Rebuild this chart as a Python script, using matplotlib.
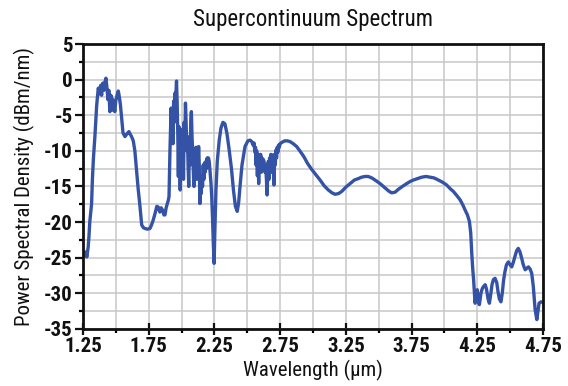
import matplotlib
matplotlib.use("Agg")
import matplotlib.pyplot as plt
from matplotlib.ticker import MultipleLocator
from matplotlib import font_manager

# ---- data ----
wavelength_um = [
    1.250, 1.260, 1.270, 1.280, 1.290, 1.296, 1.302, 1.310, 1.316, 1.322, 1.330, 1.341,
    1.354, 1.360, 1.367, 1.375, 1.385, 1.392, 1.400, 1.410, 1.418, 1.425, 1.432, 1.440,
    1.447, 1.455, 1.462, 1.470, 1.477, 1.484, 1.492, 1.500, 1.510, 1.519, 1.526, 1.535,
    1.545, 1.555, 1.570, 1.585, 1.600, 1.608, 1.620, 1.633, 1.645, 1.658, 1.670, 1.684,
    1.697, 1.710, 1.722, 1.740, 1.760, 1.772, 1.785, 1.800, 1.812, 1.823, 1.835, 1.845,
    1.855, 1.866, 1.874, 1.883, 1.892, 1.900, 1.905, 1.912, 1.917, 1.921, 1.926, 1.930,
    1.935, 1.940, 1.945, 1.950, 1.955, 1.962, 1.967, 1.972, 1.976, 1.980, 1.985, 1.990,
    1.995, 2.000, 2.005, 2.010, 2.015, 2.020, 2.025, 2.030, 2.035, 2.040, 2.045, 2.050,
    2.055, 2.060, 2.065, 2.070, 2.075, 2.080, 2.085, 2.090, 2.095, 2.100, 2.105, 2.110,
    2.115, 2.120, 2.125, 2.130, 2.135, 2.140, 2.145, 2.150, 2.155, 2.160, 2.165, 2.170,
    2.175, 2.180, 2.185, 2.190, 2.195, 2.200, 2.205, 2.211, 2.218, 2.224, 2.230, 2.236,
    2.242, 2.248, 2.254, 2.262, 2.272, 2.287, 2.300, 2.315, 2.330, 2.345, 2.360, 2.380,
    2.395, 2.410, 2.424, 2.435, 2.445, 2.460, 2.483, 2.505, 2.521, 2.534, 2.545, 2.552,
    2.558, 2.563, 2.567, 2.572, 2.577, 2.582, 2.587, 2.592, 2.597, 2.602, 2.607, 2.612,
    2.617, 2.622, 2.628, 2.634, 2.640, 2.646, 2.651, 2.656, 2.660, 2.665, 2.670, 2.675,
    2.680, 2.686, 2.692, 2.698, 2.703, 2.708, 2.713, 2.718, 2.723, 2.728, 2.733, 2.738,
    2.744, 2.750, 2.765, 2.785, 2.805, 2.825, 2.850, 2.876, 2.900, 2.930, 2.960, 2.990,
    3.020, 3.054, 3.085, 3.117, 3.145, 3.168, 3.195, 3.219, 3.250, 3.282, 3.315, 3.345,
    3.370, 3.396, 3.420, 3.447, 3.480, 3.510, 3.535, 3.561, 3.580, 3.599, 3.625, 3.650,
    3.680, 3.713, 3.740, 3.764, 3.795, 3.827, 3.860, 3.890, 3.920, 3.954, 3.985, 4.017,
    4.043, 4.068, 4.095, 4.120, 4.140, 4.157, 4.175, 4.190, 4.200, 4.208, 4.215, 4.222,
    4.228, 4.233, 4.240, 4.245, 4.250, 4.256, 4.261, 4.266, 4.272, 4.278, 4.285, 4.292,
    4.300, 4.310, 4.320, 4.332, 4.342, 4.352, 4.362, 4.372, 4.385, 4.398, 4.408, 4.418,
    4.430, 4.440, 4.450, 4.460, 4.472, 4.486, 4.500, 4.512, 4.525, 4.537, 4.550, 4.562,
    4.575, 4.588, 4.600, 4.614, 4.626, 4.639, 4.652, 4.664, 4.676, 4.690, 4.703, 4.712,
    4.720, 4.735, 4.750,
]
psd_dbm_nm = [
    -24.5, -24.8, -24.2, -24.9, -23.5, -22.0, -20.0, -18.5, -17.4, -14.0, -11.0, -8.0,
    -3.8, -2.5, -1.2, -2.0, -0.8, -2.2, -0.5, -1.5, -0.3, 0.2, -1.0, -2.8,
    -1.5, -4.5, -2.2, -2.6, -4.3, -2.9, -4.5, -3.0, -2.2, -1.6, -2.3, -3.5,
    -5.5, -7.5, -8.0, -7.6, -7.3, -7.6, -8.0, -8.6, -10.0, -12.7, -15.3, -17.8,
    -20.4, -20.8, -20.9, -21.0, -20.9, -20.4, -19.7, -18.7, -17.8, -17.9, -18.6, -18.0,
    -18.3, -19.0, -19.0, -18.0, -17.4, -16.9, -16.4, -10.0, -6.6, -4.0, -7.5, -5.0,
    -9.0, -3.0, -6.0, -1.9, -3.0, -0.2, -3.3, -8.0, -13.6, -6.6, -10.0, -15.5,
    -10.0, -7.0, -12.0, -8.0, -14.0, -6.0, -9.0, -3.3, -6.0, -10.0, -8.0, -12.0,
    -15.0, -9.0, -12.0, -6.0, -4.5, -8.0, -10.3, -13.0, -15.0, -10.0, -12.7, -9.5,
    -14.0, -11.0, -13.0, -9.4, -12.0, -17.4, -14.0, -16.0, -13.6, -15.0, -12.0, -14.0,
    -11.7, -13.0, -11.5, -12.5, -11.0, -11.8, -11.0, -11.5, -13.1, -14.5, -16.5, -19.5,
    -23.0, -25.8, -21.0, -15.5, -11.5, -8.5, -6.8, -6.0, -6.2, -7.5, -9.5, -12.5,
    -15.5, -17.8, -18.5, -17.2, -15.0, -12.0, -9.4, -8.6, -8.5, -8.7, -9.2, -8.9,
    -10.2, -9.5, -12.0, -10.0, -13.5, -10.5, -14.6, -11.0, -12.0, -10.5, -13.0, -11.0,
    -12.5, -11.2, -11.5, -13.0, -12.0, -14.0, -16.2, -13.0, -11.5, -14.0, -11.0, -12.5,
    -10.5, -13.0, -10.6, -12.0, -14.8, -10.5, -12.0, -9.9, -11.0, -9.5, -10.2, -9.2,
    -9.5, -9.0, -8.8, -8.6, -8.6, -8.7, -9.0, -9.4, -10.0, -10.8, -11.8, -12.6,
    -13.3, -14.1, -14.9, -15.5, -15.9, -16.1, -16.0, -15.7, -15.1, -14.6, -14.1, -13.9,
    -13.7, -13.6, -13.6, -13.8, -14.2, -14.6, -15.0, -15.4, -15.7, -15.9, -15.8, -15.4,
    -15.0, -14.6, -14.3, -14.1, -13.9, -13.7, -13.6, -13.7, -13.8, -14.1, -14.4, -14.8,
    -15.3, -15.7, -16.3, -16.9, -17.6, -18.3, -19.0, -19.9, -21.5, -24.4, -26.5, -28.1,
    -30.0, -31.4, -30.4, -29.8, -29.5, -30.8, -31.4, -31.6, -30.8, -30.0, -29.5, -29.2,
    -29.0, -28.8, -29.4, -30.8, -31.4, -30.2, -28.8, -28.1, -27.9, -28.5, -29.8, -30.8,
    -31.2, -30.0, -28.2, -27.0, -26.0, -25.6, -26.0, -26.3, -25.6, -24.8, -24.0, -23.7,
    -24.2, -25.1, -26.0, -26.7, -26.5, -26.3, -26.6, -27.2, -29.0, -32.3, -33.7, -32.5,
    -31.4, -31.2, -31.3,
]

x_ticks = [1.25, 1.75, 2.25, 2.75, 3.25, 3.75, 4.25, 4.75]
y_ticks = [-35, -30, -25, -20, -15, -10, -5, 0, 5]

title_text = "Supercontinuum Spectrum"
x_label = "Wavelength (\u00b5m)"
y_label = "Power Spectral Density (dBm/nm)"

# ---- style ----
available = {f.name for f in font_manager.fontManager.ttflist}
fam = [f for f in ["Roboto Condensed", "Liberation Sans Narrow", "Liberation Sans"] if f in available]
plt.rcParams["font.family"] = fam + ["DejaVu Sans"]

fig = plt.figure(figsize=(5.68, 3.86), dpi=100)
ax = fig.add_axes([0.146, 0.148, 0.810, 0.738])

ax.plot(wavelength_um, psd_dbm_nm, color="#3553a6", lw=2.4, solid_joinstyle="round")

ax.set_xlim(1.25, 4.75)
ax.set_ylim(-35, 5)
ax.set_xticks(x_ticks)
ax.set_xticklabels([f"{v:.2f}" for v in x_ticks], fontweight="bold")
ax.set_yticks(y_ticks)
ax.set_yticklabels([f"{v:d}" for v in y_ticks], fontweight="bold")
ax.xaxis.set_minor_locator(MultipleLocator(0.25))
ax.yaxis.set_minor_locator(MultipleLocator(2.5))

ax.grid(True, which="both", color="#c8c8c8", lw=1.1)
ax.set_axisbelow(True)

for s in ax.spines.values():
    s.set_linewidth(2.0)
    s.set_color("#111111")

ax.tick_params(axis="both", which="major", direction="out", length=6, width=1.6,
               labelsize=15, pad=1.5, colors="#111111")
ax.tick_params(axis="both", which="minor", direction="out", length=3, width=1.6)
ax.tick_params(axis="x", which="major", direction="inout", length=8)

ax.set_title(title_text, fontsize=16.5, pad=13, color="#111111", fontweight="normal")
ax.set_xlabel(x_label, fontsize=15, labelpad=3, color="#111111", fontweight="normal")
ax.set_ylabel(y_label, fontsize=15, labelpad=6, color="#111111", fontweight="normal")

fig.savefig("out.png", dpi=100)
